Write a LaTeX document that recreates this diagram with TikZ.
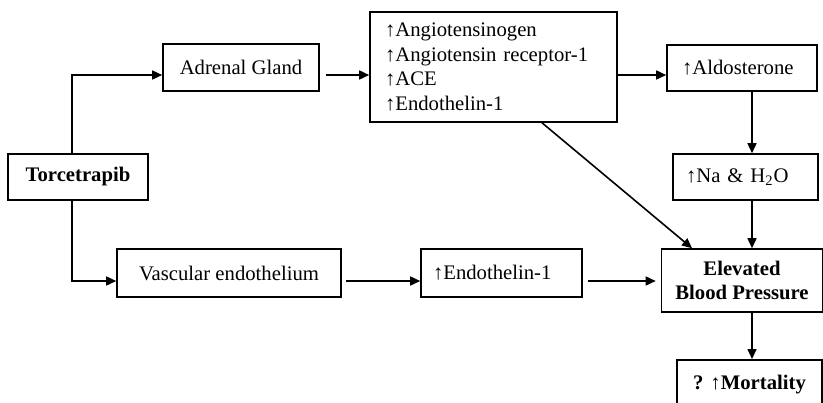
\documentclass[tikz,border=0pt]{standalone}
\usepackage{fontspec}
\setmainfont{Liberation Serif}
\usetikzlibrary{arrows.meta}
\begin{document}
\begin{tikzpicture}[x=0.5pt, y=-0.5pt, font=\fontsize{10.35}{12.25}\selectfont,
    box/.style={draw, line width=0.8pt, inner sep=0pt},
    lbox/.style={box, align=left, inner xsep=#1},
    arr/.style={-{Triangle[length=5pt,width=4.5pt]}, line width=0.8pt}]
  \useasboundingbox (0,0) rectangle (823,402);
  % boxes, at their centres in pixel units
  \node[box, minimum width=70pt, minimum height=23pt] (tor) at (78,177) {\textbf{Torcetrapib}};
  \node[box, minimum width=78pt, minimum height=23.5pt] (adr) at (241,67.5) {Adrenal Gland};
  \node[lbox=7.5pt, text width=108.5pt, minimum height=55pt] (ang) at (493.5,67)
    {↑Angiotensinogen\\↑Angiotensin receptor-1\\↑ACE\\↑Endothelin-1};
  \node[lbox=7.5pt, text width=60pt, minimum height=23pt] (aldo) at (742,68) {↑Aldosterone};
  \node[lbox=6.5pt, text width=59.5pt, minimum height=23pt] (na) at (745.5,177) {↑Na \& H\textsubscript{2}O};
  \node[box, align=center, minimum width=80.5pt, minimum height=31.5pt] (bp) at (742,280.5)
    {\textbf{Elevated}\\\textbf{Blood Pressure}};
  \node[box, minimum width=112pt, minimum height=24pt] (vasc) at (229,273) {Vascular endothelium};
  \node[lbox=6pt, text width=68.5pt, minimum height=24pt] (endo) at (501.5,273) {↑Endothelin-1};
  % runs off the bottom edge, as in the source
  \node[box, anchor=north, minimum width=72.5pt, text height=15pt, text depth=15pt] (mort)
    at (749.5,359) {\textbf{? ↑Mortality}};
  % guide lines for the connectors
  \coordinate (trunk) at (72,0);
  \coordinate (spine) at (752,0);
  \coordinate (row) at (0,75);
  \coordinate (low) at (0,281);
  \draw[arr] (tor.north -| trunk) |- (adr.west |- row);
  \draw[arr] (tor.south -| trunk) |- (vasc.west |- low);
  \draw[arr, shorten <=3pt] (adr.east |- row) -- (ang.west |- row);
  \draw[arr] (ang.east |- row) -- (aldo.west |- row);
  \draw[arr] (aldo.south -| spine) -- (na.north -| spine);
  \draw[arr] (na.south -| spine) -- (bp.north -| spine);
  \draw[arr] (bp.south -| spine) -- (mort.north -| spine);
  \draw[arr] ([xshift=24.25pt]ang.south) -- ([xshift=-25pt]bp.north);
  \draw[arr, shorten <=2pt] (vasc.east |- low) -- (endo.west |- low);
  \draw[arr, shorten <=2.5pt, shorten >=2.5pt] (endo.east |- low) -- (bp.west |- low);
\end{tikzpicture}
\end{document}
